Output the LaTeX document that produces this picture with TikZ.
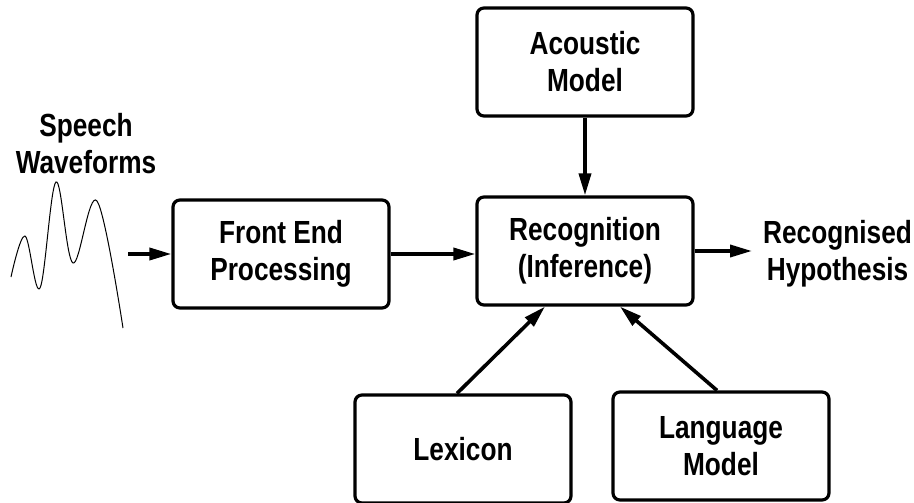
\documentclass[tikz,border=0pt]{standalone}
\usepackage{fontspec}
\setmainfont{Liberation Sans}[FakeStretch=0.82]
\usetikzlibrary{arrows.meta}
\begin{document}
\begin{tikzpicture}[x=1pt,y=-1pt,
  label text/.style={font=\fontsize{32}{37}\selectfont\bfseries, align=center},
  block/.style={label text, draw, line width=3.2pt, rounded corners=7pt,
    minimum width=216pt, minimum height=108pt, inner sep=0pt},
  flow/.style={line width=3.6pt, -{Triangle[length=22pt,width=12pt]}},
  wave/.style={line width=1pt}]
  \useasboundingbox (0,0) rectangle (914,503);

  % processing blocks
  \node[block] (ac)  at (585,62)  {Acoustic\\Model};
  \node[block] (fe)  at (281,254) {Front End\\Processing};
  \node[block] (rec) at (585,251) {Recognition\\(Inference)};
  \node[block] (lex) at (463,449) {Lexicon};
  \node[block] (lm)  at (721,446) {Language\\Model};

  % free labels
  \node[label text] (sw)  at (86,144)  {Speech\\Waveforms};
  \node[label text, anchor=west, inner sep=0pt] (hyp) at (763,254) {Recognised\\Hypothesis};

  % input waveform
  \draw[wave] plot[smooth, tension=0.6] coordinates
    {(11,277) (25,236) (40,288) (56,182) (73,263) (97,201) (123,328)};
  \coordinate (wv) at (128,254);

  % connectors
  \draw[flow] (wv) -- (fe.west);
  \draw[flow] (fe.east) -- (fe.east -| rec.west);
  \draw[flow] (ac.south) -- (rec.north);
  \draw[flow, shorten >=11pt] (rec.east) -- (rec.east -| hyp.west);
  \draw[flow] ([xshift=-6pt]lex.north) -- ([xshift=-40pt]rec.south);
  \draw[flow] ([xshift=-4pt]lm.north) -- ([xshift=35pt]rec.south);
\end{tikzpicture}
\end{document}
